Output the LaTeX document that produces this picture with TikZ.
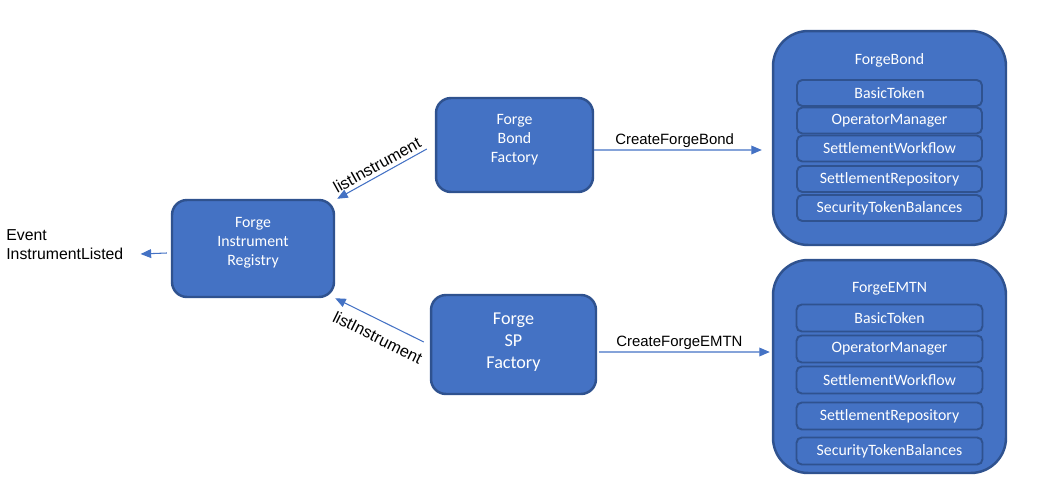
\documentclass[tikz,border=0pt]{standalone}
\usepackage{fontspec}
\setmainfont{Carlito}
\newfontfamily\arialfont{Liberation Sans}
\usepackage{tikz}
\usetikzlibrary{
	arrows.meta,
}
\usepackage{xcolor}
\definecolor{boxblue}{HTML}{4472C4}
\definecolor{edgeblue}{HTML}{2F528F}
\tikzset{
	block/.style={draw=edgeblue, line width=1.4pt, fill=boxblue, rounded corners=8.5pt},
	container/.style={draw=edgeblue, line width=1.4pt, fill=boxblue, rounded corners=20pt, minimum width=4.66cm},
	part/.style={draw=edgeblue, line width=1.1pt, fill=boxblue, rounded corners=3pt, text=white, inner sep=0pt, font=\fontsize{9}{11}\selectfont},
	blocktext/.style={text=white, align=center, inner sep=0pt, font=\fontsize{9}{10.8}\selectfont},
	call/.style={draw=boxblue, line width=0.6pt, -{Triangle[length=6pt,width=5pt]}},
	callback/.style={draw=boxblue, line width=0.6pt, {Triangle[length=6pt,width=5pt]}-},
	calllabel/.style={font=\arialfont\fontsize{8.5}{10}\selectfont, inner sep=1pt},
	listlabel/.style={font=\arialfont\fontsize{9.3}{10}\selectfont, inner sep=1pt, sloped},
}

\begin{document}
\begin{tikzpicture}[x=0.02cm, y=-0.02cm]
	\useasboundingbox (0,0) rectangle (1038,501);

	\node[block, minimum width=3.24cm, minimum height=1.94cm] (registry) at (253,248.5) {};
	\node[blocktext] (registrytext) at (253,243) {Forge\\Instrument\\Registry};

	\node[block, minimum width=3.14cm, minimum height=1.88cm] (bondfactory) at (514.5,145) {};
	\node[blocktext] (bondfactorytext) at (514.5,140) {Forge\\Bond\\Factory};

	\node[block, minimum width=3.30cm, minimum height=1.98cm] (spfactory) at (513.5,344.5) {};
	\node[blocktext, font=\fontsize{10.3}{12.5}\selectfont] (spfactorytext) at (513.5,342) {Forge\\SP\\Factory};

	\node[calllabel, anchor=west, align=left, font=\arialfont\fontsize{9}{10.8}\selectfont, inner sep=0pt] (event) at (6,245) {Event\\InstrumentListed};

	\node[container, minimum height=4.28cm] (bond) at (889.5,138) {};
	\node[blocktext] (bondtitle) at (889.5,60) {ForgeBond};
	\foreach \name/\y [count=\i] in {BasicToken/93, OperatorManager/120.5, SettlementWorkflow/148.5, SettlementRepository/179, SecurityTokenBalances/208}
		\node[part, minimum width=3.7cm, minimum height=0.52cm] (bondpart\i) at (889.5,\y) {\name};

	\node[container, minimum height=4.26cm] (emtn) at (889.5,366.5) {};
	\node[blocktext] (emtntitle) at (889.5,289) {ForgeEMTN};
	\foreach \name/\y [count=\i] in {BasicToken/318, OperatorManager/349, SettlementWorkflow/380, SettlementRepository/416, SecurityTokenBalances/451}
		\node[part, minimum width=3.72cm, minimum height=0.54cm] (emtnpart\i) at (889.5,\y) {\name};

	\draw[call] ([yshift=-0.1cm]bondfactory.east) -- node[calllabel, above, pos=0.48] {CreateForgeBond} ([xshift=-0.2cm,yshift=-0.24cm]bond.west);
	\draw[call] ([xshift=0.04cm,yshift=-0.15cm]spfactory.east) -- node[calllabel, above, pos=0.47] {CreateForgeEMTN} ([xshift=-0.04cm,yshift=0.29cm]emtn.west);

	\draw[callback] ([xshift=0.04cm]registry.north east) -- node[listlabel, above, yshift=0.04cm] {listInstrument} ([xshift=-0.16cm,yshift=-0.08cm]bondfactory.west);
	\draw[callback] (registry.south east) -- node[listlabel, below, yshift=-0.16cm, xshift=0.12cm] {listInstrument} ([xshift=-0.12cm,yshift=0.05cm]spfactory.west);

	\draw[call] ([xshift=-0.08cm,yshift=-0.09cm]registry.west) -- ([xshift=0.34cm,yshift=-0.18cm]event.east);
\end{tikzpicture}
\end{document}
